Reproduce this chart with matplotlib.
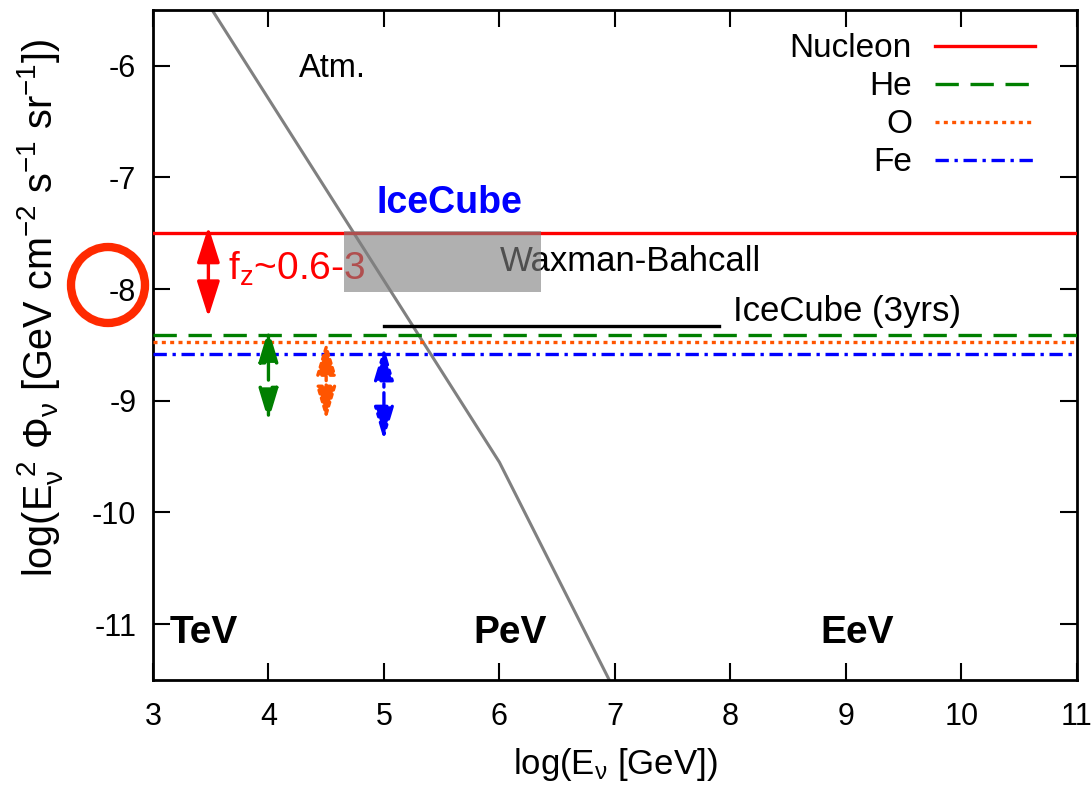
import matplotlib
matplotlib.use("Agg")
import matplotlib.pyplot as plt
from matplotlib.patches import Rectangle, Ellipse

plt.rcParams['font.family'] = ['Liberation Sans', 'DejaVu Sans']
plt.rcParams['mathtext.fontset'] = 'custom'
plt.rcParams['mathtext.rm'] = 'Liberation Sans'
plt.rcParams['mathtext.it'] = 'Liberation Sans'
plt.rcParams['mathtext.bf'] = 'Liberation Sans:bold'
plt.rcParams['axes.unicode_minus'] = False

# ---- data ----
x_ticks = [3, 4, 5, 6, 7, 8, 9, 10, 11]
y_ticks = [-6, -7, -8, -9, -10, -11]
species = ['Nucleon', 'He', 'O', 'Fe']
species_flux = [-7.5, -8.41, -8.47, -8.58]
species_colors = ['#ff0000', '#007f00', '#ff5500', '#0000ff']
arrow_species = ['He', 'O', 'Fe']
arrow_logE = [4.0, 4.5, 5.0]
arrow_top = [-8.36, -8.47, -8.52]
arrow_bottom = [-9.18, -9.17, -9.35]
atm_logE = [3.5, 6.0, 7.0]
atm_flux = [-5.48, -9.55, -11.6]
icecube3_logE = [5.0, 7.9]
icecube3_flux = [-8.33, -8.33]
wb_logE = [4.65, 6.36]
wb_flux = [-8.03, -7.48]
fz_logE = 3.48
fz_range = [-7.44, -8.25]

styles = {
    'Nucleon': dict(ls='-'),
    'He': dict(ls=(0, (7, 3.5))),
    'O': dict(ls=(0, (1.2, 1.3))),
    'Fe': dict(ls=(0, (4, 1.7, 1, 1.7))),
}

fig = plt.figure(figsize=(10.91, 7.86), dpi=100)
ax = fig.add_axes([0.1402, 0.1349, 0.987 - 0.1402, 0.9873 - 0.1349])
ax.set_xlim(3, 11)
ax.set_ylim(-11.5, -5.5)

# atmospheric
ax.plot(atm_logE, atm_flux, color='#808080', lw=2.2, zorder=2)

# species lines
for name, f, c in zip(species, species_flux, species_colors):
    ax.axhline(f, color=c, lw=2.4, label=name, zorder=3, **styles[name])

# IceCube 3yrs
ax.plot(icecube3_logE, icecube3_flux, color='black', lw=2.4, zorder=3)

# arrows for species
for name, xe, yt, yb in zip(arrow_species, arrow_logE, arrow_top, arrow_bottom):
    c = species_colors[species.index(name)]
    ax.annotate('', xy=(xe, yt), xytext=(xe, yb),
                arrowprops=dict(arrowstyle='<|-|>,head_length=1.0,head_width=0.3',
                                color=c, lw=2.4, shrinkA=0, shrinkB=0,
                                mutation_scale=20, **styles[name]), zorder=4)

# f_z arrow
ax.annotate('', xy=(fz_logE, fz_range[0]), xytext=(fz_logE, fz_range[1]),
            arrowprops=dict(arrowstyle='<|-|>,head_length=1.1,head_width=0.35',
                            color='#ff0000', lw=2.4, shrinkA=0, shrinkB=0,
                            mutation_scale=20), zorder=4)

# texts
ax.text(3.65, -7.82, r'f$_\mathrm{z}$~0.6-3', color='#ff0000', fontsize=28,
        va='center', ha='left', zorder=4)
ax.text(6.0, -7.75, 'Waxman-Bahcall', fontsize=25, va='center', ha='left', zorder=4)
ax.text(8.02, -8.2, 'IceCube (3yrs)', fontsize=25, va='center', ha='left', zorder=4)
ax.text(5.57, -7.23, 'IceCube', fontsize=27, fontweight='bold', color='#0000ff',
        va='center', ha='center', zorder=4)
ax.text(4.55, -6.02, 'Atm.', fontsize=23.5, va='center', ha='center', zorder=4)
ax.text(3.44, -11.08, 'TeV', fontsize=28, fontweight='bold', va='center', ha='center')
ax.text(6.09, -11.08, 'PeV', fontsize=28, fontweight='bold', va='center', ha='center')
ax.text(9.10, -11.08, 'EeV', fontsize=28, fontweight='bold', va='center', ha='center')

# Waxman-Bahcall box (on top, translucent)
ax.add_patch(Rectangle((wb_logE[0], wb_flux[0]), wb_logE[1] - wb_logE[0],
                       wb_flux[1] - wb_flux[0], facecolor='#808080', alpha=0.62,
                       edgecolor='none', zorder=5))

# axes styling
ax.set_xticks(x_ticks)
ax.set_yticks(y_ticks)
ax.tick_params(direction='in', length=12, width=1.5, top=True, right=True,
               labelsize=22)
ax.tick_params(axis='x', pad=16)
ax.tick_params(axis='y', pad=12)
for s in ax.spines.values():
    s.set_linewidth(2)
ax.set_xlabel(r'log(E$_\nu$ [GeV])', fontsize=25, labelpad=10)
ax.set_ylabel(r'log(E$_\nu^{\ 2}$ $\Phi_\nu$ [GeV cm$^{-2}$ s$^{-1}$ sr$^{-1}$])',
              fontsize=28.5)
ax.yaxis.set_label_coords(-0.0955, 0.555)

leg = ax.legend(loc='upper right', bbox_to_anchor=(0.955, 0.965), frameon=False,
                markerfirst=False, handlelength=3.0, fontsize=24,
                labelspacing=0.21, handletextpad=0.7, borderaxespad=0, borderpad=0)

# red circle around -8
fig.add_artist(Ellipse((108 / 1091, 1 - 285 / 786), 74 / 1091, 76 / 786,
                       transform=fig.transFigure, fill=False,
                       edgecolor='#ff2a00', lw=6, zorder=10))

fig.savefig('out.png', dpi=100)
